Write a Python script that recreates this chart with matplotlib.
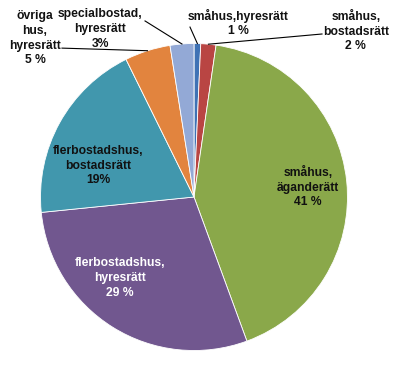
import numpy as np
import matplotlib.pyplot as plt

plt.rcParams['font.family'] = ['Liberation Sans', 'DejaVu Sans']

# slices, clockwise from 12 o'clock
categories = ['småhus,hyresrätt', 'småhus,\nbostadsrätt', 'småhus,\näganderätt',
              'flerbostadshus,\nhyresrätt', 'flerbostadshus,\nbostadsrätt',
              'övriga\nhus,\nhyresrätt', 'specialbostad,\nhyresrätt']
shares = [0.7, 1.6, 42.1, 29.0, 19.3, 4.8, 2.5]
pct_labels = ['1 %', '2 %', '41 %', '29 %', '19%', '5 %', '3%']
colors = ['#3f72b5', '#b94543', '#8aa84a', '#71578f', '#4197ad', '#e2843e', '#93a9d6']

# label layout (pie radius = 1)
label_pos = [(0.287, 1.134), (1.055, 1.081), (0.743, 0.065), (-0.482, -0.528),
             (-0.625, 0.205), (-1.036, 1.033), (-0.612, 1.094)]
leader_end = [(-0.026, 1.107), (0.834, 1.062), None, None, None,
              (-0.86, 0.97), (-0.319, 1.147)]
text_colors = ['#111111', '#111111', '#111111', 'white', '#111111', '#111111', '#111111']

fig = plt.figure(figsize=(3.99, 3.69), dpi=100)
ax = fig.add_axes([0.1015, 0.0501, 0.7694, 0.832])
wedges, _ = ax.pie(shares, colors=colors, startangle=90, counterclock=False,
                   radius=1, wedgeprops=dict(edgecolor='white', linewidth=0.6))
ax.set_xlim(-1, 1)
ax.set_ylim(-1, 1)
ax.set_aspect('equal')
ax.axis('off')

for i, w in enumerate(wedges):
    txt = categories[i] + '\n' + pct_labels[i]
    x, y = label_pos[i]
    ax.text(x, y, txt, ha='center', va='center', fontsize=8.7, fontweight='bold',
            color=text_colors[i], linespacing=1.3, clip_on=False)
    if leader_end[i] is not None:
        mid = np.deg2rad((w.theta1 + w.theta2) / 2)
        ex, ey = np.cos(mid), np.sin(mid)
        lx, ly = leader_end[i]
        ax.plot([ex, lx], [ey, ly], color='black', lw=0.8, clip_on=False)

fig.savefig('out.png', dpi=100)
